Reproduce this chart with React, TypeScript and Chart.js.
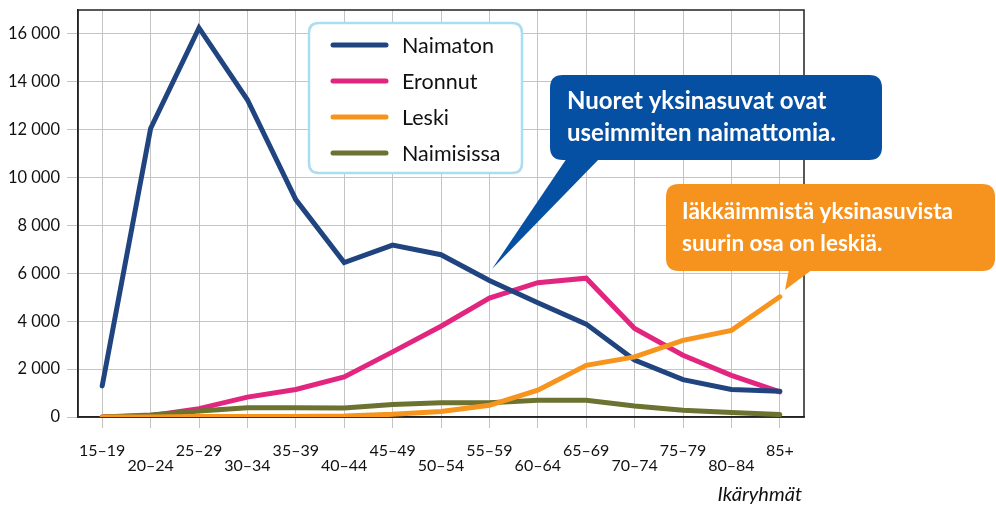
import React, { useEffect, useRef } from "react";
import { Chart, registerables } from "chart.js";

Chart.register(...registerables);

const categories = ["15–19", "20–24", "25–29", "30–34", "35–39", "40–44", "45–49", "50–54", "55–59", "60–64", "65–69", "70–74", "75–79", "80–84", "85+"];
const naimaton = [1300, 12050, 16250, 13250, 9080, 6450, 7180, 6780, 5700, 4770, 3880, 2380, 1560, 1150, 1080];
const eronnut = [0, 50, 350, 830, 1150, 1670, 2720, 3790, 4970, 5610, 5800, 3700, 2580, 1740, 1050];
const leski = [0, 0, 20, 20, 20, 40, 110, 230, 490, 1120, 2160, 2510, 3200, 3620, 5020];
const naimisissa = [0, 80, 250, 390, 390, 380, 520, 600, 600, 700, 700, 460, 280, 190, 100];

const seriesNames = ["Naimaton", "Eronnut", "Leski", "Naimisissa"];
const seriesColors = ["#20447F", "#E2267F", "#F7941D", "#6C7230"];
const yTickValues = [0, 2000, 4000, 6000, 8000, 10000, 12000, 14000, 16000];
const yMax = 17000;
const axisTitle = "Ikäryhmät";
const calloutBlue = ["Nuoret yksinasuvat ovat", "useimmiten naimattomia."];
const calloutOrange = ["Iäkkäimmistä yksinasuvista", "suurin osa on leskiä."];

const FONT = "Lato, 'Open Sans', sans-serif";

function roundRectPath(ctx: CanvasRenderingContext2D, x: number, y: number, w: number, h: number, r: number) {
  ctx.moveTo(x + r, y);
  ctx.lineTo(x + w - r, y);
  ctx.quadraticCurveTo(x + w, y, x + w, y + r);
  ctx.lineTo(x + w, y + h - r);
  ctx.quadraticCurveTo(x + w, y + h, x + w - r, y + h);
  ctx.lineTo(x + r, y + h);
  ctx.quadraticCurveTo(x, y + h, x, y + h - r);
  ctx.lineTo(x, y + r);
  ctx.quadraticCurveTo(x, y, x + r, y);
  ctx.closePath();
}

const framePlugin = {
  id: "frame",
  beforeDatasetsDraw(chart: any) {
    const { ctx, chartArea } = chart;
    ctx.save();
    ctx.strokeStyle = "#222";
    ctx.lineWidth = 1.5;
    ctx.strokeRect(chartArea.left, chartArea.top, chartArea.right - chartArea.left, chartArea.bottom - chartArea.top);
    ctx.restore();
  },
};

const overlayPlugin = {
  id: "overlay",
  afterDatasetsDraw(chart: any) {
    const { ctx } = chart;
    ctx.save();
    // legend box
    ctx.beginPath();
    roundRectPath(ctx, 309, 23, 213, 150, 10);
    ctx.fillStyle = "#fff";
    ctx.fill();
    ctx.lineWidth = 2.5;
    ctx.strokeStyle = "#AADDEE";
    ctx.stroke();
    const rows = [45, 81, 117, 153];
    seriesNames.forEach((name, i) => {
      ctx.beginPath();
      ctx.lineCap = "round";
      ctx.lineWidth = 5;
      ctx.strokeStyle = seriesColors[i];
      ctx.moveTo(333, rows[i]);
      ctx.lineTo(386, rows[i]);
      ctx.stroke();
      ctx.fillStyle = "#111";
      ctx.font = `21.5px ${FONT}`;
      ctx.textBaseline = "middle";
      ctx.textAlign = "left";
      ctx.fillText(name, 402, rows[i] + 1);
    });

    // blue callout
    ctx.beginPath();
    roundRectPath(ctx, 550, 75, 332, 85, 13);
    ctx.fillStyle = "#0550A3";
    ctx.fill();
    ctx.beginPath();
    ctx.moveTo(567, 158);
    ctx.lineTo(600, 158);
    ctx.lineTo(492, 269);
    ctx.closePath();
    ctx.fill();
    ctx.fillStyle = "#fff";
    ctx.font = `bold 24px ${FONT}`;
    ctx.textBaseline = "alphabetic";
    ctx.fillText(calloutBlue[0], 567, 109);
    ctx.fillText(calloutBlue[1], 567, 141);

    // orange callout
    ctx.beginPath();
    roundRectPath(ctx, 666, 184, 329, 87, 13);
    ctx.fillStyle = "#F6921E";
    ctx.fill();
    ctx.beginPath();
    ctx.moveTo(789, 269);
    ctx.lineTo(813, 269);
    ctx.lineTo(785, 290);
    ctx.closePath();
    ctx.fill();
    ctx.fillStyle = "#fff";
    ctx.font = `bold 22.5px ${FONT}`;
    ctx.fillText(calloutOrange[0], 682, 219);
    ctx.fillText(calloutOrange[1], 682, 251);

    // axis title
    ctx.fillStyle = "#111";
    ctx.font = `italic 20px ${FONT}`;
    ctx.textAlign = "right";
    ctx.textBaseline = "middle";
    ctx.fillText(axisTitle, 802, 495);
    ctx.restore();
  },
};

export default function App() {
  const ref = useRef<HTMLCanvasElement | null>(null);
  useEffect(() => {
    if (!ref.current) return;
    const series = [naimaton, eronnut, leski, naimisissa];
    const orders = [2, 3, 0, 1];
    const chart = new Chart(ref.current, {
      type: "line",
      data: {
        labels: categories,
        datasets: series.map((d, i) => ({
          label: seriesNames[i],
          data: d,
          borderColor: seriesColors[i],
          backgroundColor: seriesColors[i],
          borderWidth: 5,
          pointRadius: 0,
          tension: 0,
          fill: false,
          borderCapStyle: "round" as const,
          borderJoinStyle: "miter" as const,
          order: orders[i],
        })),
      },
      options: {
        animation: false,
        responsive: false,
        layout: { padding: { left: 0, top: 10, right: 192, bottom: 0 } },
        plugins: { legend: { display: false }, tooltip: { enabled: false } },
        scales: {
          x: {
            offset: true,
            grid: { color: "#C4C4C4", lineWidth: 1, tickLength: 11, offset: false },
            border: { display: true, color: "#222", width: 1.5 },
            ticks: {
              autoSkip: false,
              maxRotation: 0,
              minRotation: 0,
              padding: 15,
              color: "#111",
              font: { family: FONT, size: 16, lineHeight: 0.95 },
              callback: (_v: any, i: number) => (i % 2 ? ["", categories[i]] : categories[i]),
            },
            afterFit: (s: any) => {
              s.height = 90;
              s.paddingLeft = 0;
              s.paddingRight = 0;
            },
          },
          y: {
            min: 0,
            max: yMax,
            afterBuildTicks: (s: any) => {
              s.ticks = [...yTickValues, yMax].map((v) => ({ value: v }));
            },
            grid: {
              color: (c: any) => (c.tick && c.tick.value === yMax ? "rgba(0,0,0,0)" : "#C4C4C4"),
              lineWidth: 1,
              tickLength: 11,
            },
            border: { display: true, color: "#222", width: 1.5 },
            ticks: {
              padding: 7,
              color: "#111",
              font: { family: FONT, size: 16.5 },
              callback: (v: any) => (v === yMax ? "" : String(v).replace(/\B(?=(\d{3})+(?!\d))/g, " ")),
            },
            afterFit: (s: any) => {
              s.width = 78;
              s.paddingTop = 0;
              s.paddingBottom = 0;
            },
          },
        },
      },
      plugins: [framePlugin, overlayPlugin],
    });
    return () => chart.destroy();
  }, []);
  return (
    <div style={{ position: "absolute", left: 0, top: 0, width: 996, height: 507, background: "#fff" }}>
      <canvas ref={ref} width={996} height={507} style={{ display: "block" }} />
    </div>
  );
}
